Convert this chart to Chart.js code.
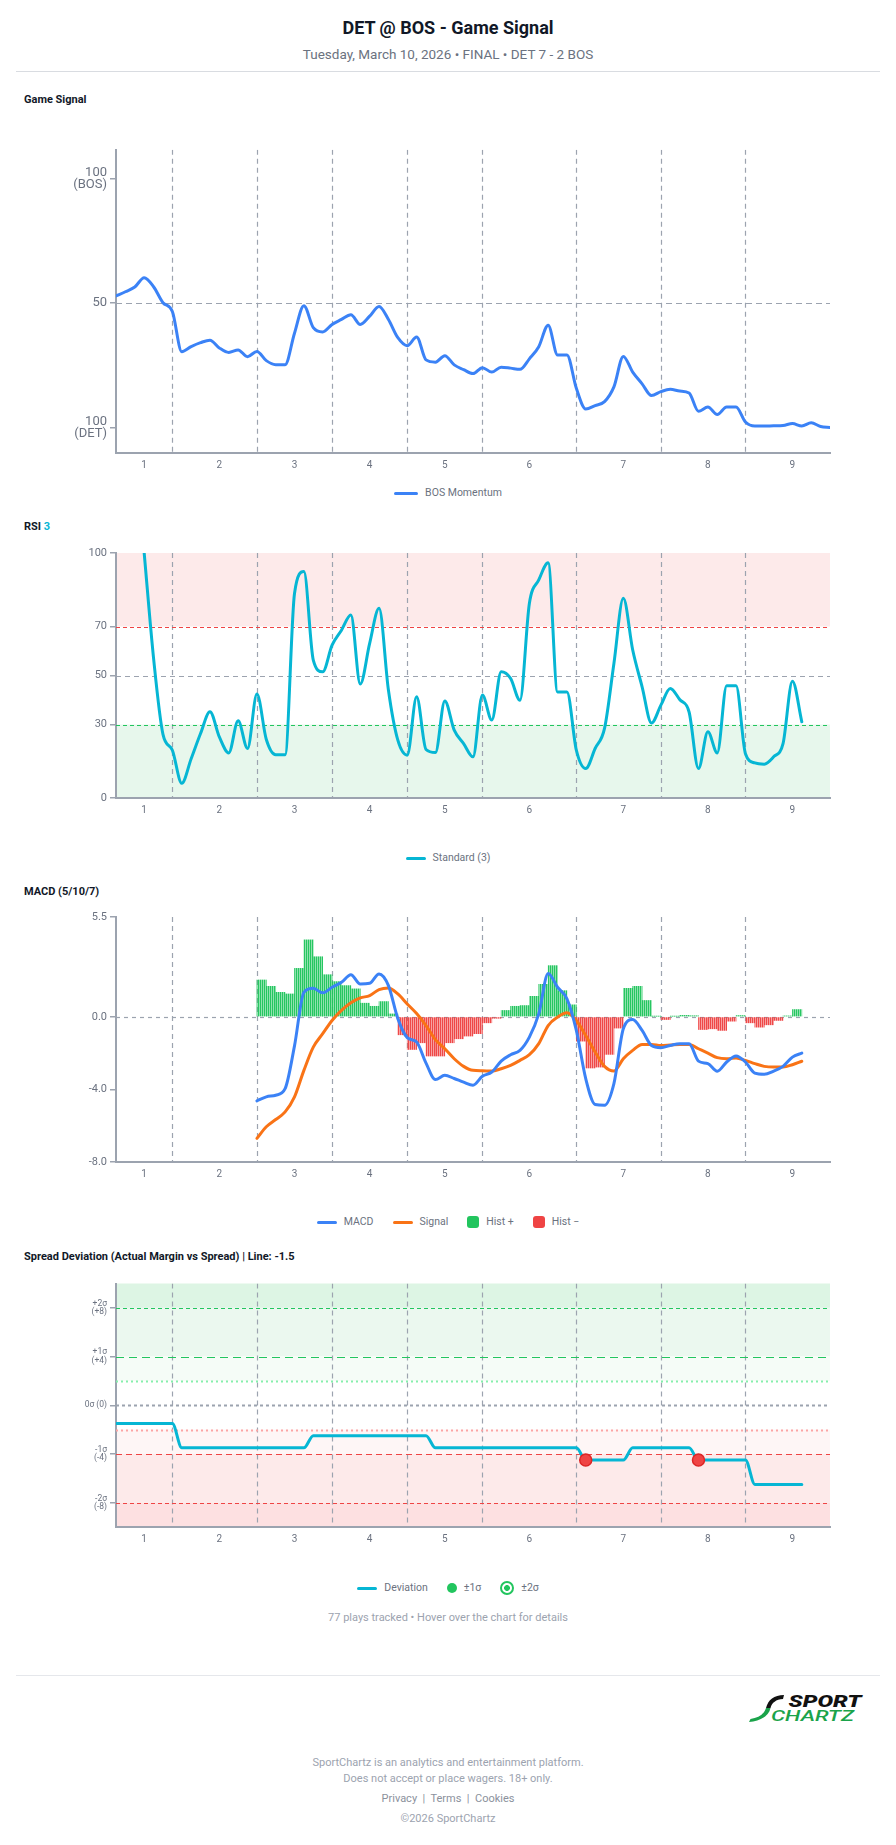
<!DOCTYPE html>
<html>
<head>
<meta charset="utf-8">
<title>DET @ BOS - Game Signal</title>
<script src="https://cdn.jsdelivr.net/npm/chart.js@4.4.1/dist/chart.umd.min.js"></script>
<style>
  body { margin: 0; background: #fff; font-family: Roboto, "Liberation Sans", sans-serif; }
  #page { position: relative; width: 896px; height: 1845px; overflow: hidden; }
  .abs { position: absolute; }
  .center { left: 0; width: 896px; text-align: center; }
  .title { top: 17px; line-height: 22px; font-size: 18px; font-weight: 700; color: #111827; }
  .sub { top: 46px; line-height: 17px; font-size: 13.5px; color: #6b7280; }
  .rule { left: 16px; width: 864px; height: 1px; background: #d9dce1; }
  .section { left: 24px; line-height: 16px; font-size: 11px; font-weight: 700; color: #111827; }
  .box { left: 0; width: 896px; }
  .legend { left: 0; width: 896px; display: flex; justify-content: center; gap: 19px;
            line-height: 16px; font-size: 10.5px; color: #6b7280; }
  .legend span { display: flex; align-items: center; gap: 7px; }
  .ln { display: inline-block; width: 20px; height: 3px; border-radius: 2px; }
  .sq { display: inline-block; width: 12px; height: 12px; border-radius: 3px; }
  .dot { display: inline-block; width: 10px; height: 10px; border-radius: 50%; background: #22c55e; }
  .ring { display: inline-block; width: 10px; height: 10px; border-radius: 50%; border: 2px solid #22c55e;
          background: radial-gradient(circle, #22c55e 0 2.6px, #fff 3.2px); }
  .note { line-height: 14px; font-size: 11px; color: #9ca3af; }
  .foot { line-height: 14px; font-size: 11px; color: #9ca3af; }
</style>
</head>
<body>
<div id="page">
  <div class="abs center title">DET @ BOS - Game Signal</div>
  <div class="abs center sub">Tuesday, March 10, 2026 • FINAL • DET 7 - 2 BOS</div>
  <div class="abs rule" style="top:71px"></div>

  <div class="abs section" style="top:92px">Game Signal</div>
  <div class="abs box" style="top:135px;height:348px"><canvas id="momChart"></canvas></div>
  <div class="abs legend" style="top:485px">
    <span><i class="ln" style="width:24px;background:#3b82f6"></i>BOS Momentum</span>
  </div>

  <div class="abs section" style="top:519px">RSI <span style="color:#06b6d4">3</span></div>
  <div class="abs box" style="top:543px;height:285px"><canvas id="rsiChart"></canvas></div>
  <div class="abs legend" style="top:850px">
    <span><i class="ln" style="background:#06b6d4"></i>Standard (3)</span>
  </div>

  <div class="abs section" style="top:884px">MACD (5/10/7)</div>
  <div class="abs box" style="top:907px;height:285px"><canvas id="macdChart"></canvas></div>
  <div class="abs legend" style="top:1214px">
    <span><i class="ln" style="background:#3b82f6"></i>MACD</span>
    <span><i class="ln" style="background:#f97316"></i>Signal</span>
    <span><i class="sq" style="background:#22c55e"></i>Hist +</span>
    <span><i class="sq" style="background:#ef4444"></i>Hist −</span>
  </div>

  <div class="abs section" style="top:1249px">Spread Deviation (Actual Margin vs Spread) | Line: -1.5</div>
  <div class="abs box" style="top:1272px;height:285px"><canvas id="devChart"></canvas></div>
  <div class="abs legend" style="top:1580px">
    <span><i class="ln" style="background:#06b6d4"></i>Deviation</span>
    <span><i class="dot"></i>±1σ</span>
    <span><i class="ring"></i>±2σ</span>
  </div>
  <div class="abs center note" style="top:1611px">77 plays tracked • Hover over the chart for details</div>

  <div class="abs rule" style="top:1675px;background:#e5e7eb"></div>
  <svg class="abs" style="left:746px;top:1692px" width="120" height="34" viewBox="0 0 120 34">
    <path d="M38 3 C28 3 22 8 20 16 L24.5 16 C26 10.5 30 7.5 37 7 Z" fill="#111"/>
    <path d="M20 16 L24.5 16 C23 24 14 29.5 3 30 L4.5 27 C12 26 18 22.5 20 16 Z" fill="#1aa34a"/>
    <text x="42.5" y="14.8" textLength="73" lengthAdjust="spacingAndGlyphs" font-family="Roboto, sans-serif" font-size="16" font-weight="900" font-style="italic" fill="#111">SPORT</text>
    <text x="25" y="28.5" textLength="83" lengthAdjust="spacingAndGlyphs" font-family="Roboto, sans-serif" font-size="15.5" font-weight="500" font-style="italic" fill="#1aa34a">CHARTZ</text>
  </svg>

  <div class="abs center foot" style="top:1756px">SportChartz is an analytics and entertainment platform.</div>
  <div class="abs center foot" style="top:1772px">Does not accept or place wagers. 18+ only.</div>
  <div class="abs center foot" style="top:1792px;color:#8b919c">Privacy &nbsp;|&nbsp; Terms &nbsp;|&nbsp; Cookies</div>
  <div class="abs center foot" style="top:1812px">©2026 SportChartz</div>
</div>

<script>
// play index axis: 77 plays, 0..76
const inningBreaks = [6, 15, 23, 31, 39, 49, 58, 67];
const inningTicks = [3, 11, 19, 27, 35, 44, 54, 63, 72];
const inningLabels = ['1', '2', '3', '4', '5', '6', '7', '8', '9'];

// BOS momentum, one value per play (0 = DET 100, 100 = BOS 100)
const momentum = [
  52.9, 54.6, 56.5, 60.2, 56.6, 50.2, 46.7, 30.6, 32.6, 34.2,
  35.2, 32.1, 30.3, 31.3, 28.6, 30.7, 27.0, 25.4, 25.4, 38.0,
  49.0, 40.2, 38.5, 41.5, 43.5, 45.4, 41.5, 44.8, 48.7, 43.5,
  36.2, 33.0, 36.5, 27.3, 26.4, 29.0, 25.3, 23.4, 21.8, 24.2,
  22.4, 24.4, 24.0, 23.5, 27.7, 32.6, 41.2, 29.3, 29.3, 15.9,
  7.6, 9.0, 10.6, 16.5, 28.7, 22.4, 17.7, 13.0, 14.6, 15.5,
  14.8, 14.0, 6.7, 8.4, 5.4, 8.4, 8.4, 2.4, 0.8, 0.8,
  0.9, 1.0, 1.8, 0.8, 2.1, 0.6, 0.2
];
const momentumTicks = [0, 50, 100];
const momentumTickText = [['100', '(DET)'], '50', ['100', '(BOS)']];

// RSI(3), starts at play 3
const rsiStart = 3;
const rsi = [
  100, 57, 26, 19.5, 6, 16, 26.3, 35.2, 24.9, 18.4,
  31.5, 20.2, 42.4, 23.9, 17.7, 17.7, 83.5, 92.4, 56.3, 51.5,
  62.4, 68.5, 74.7, 46.5, 63.1, 77.4, 44, 23.6, 17.5, 41.3,
  19.8, 18.6, 39.6, 27.7, 22.2, 16.8, 42, 31.8, 51.5, 48.8,
  39.9, 79.4, 89, 96, 43.3, 43.3, 19.5, 12, 20.2, 28.4,
  54.9, 81.5, 60.4, 45.4, 30.6, 37.9, 44.7, 40.2, 35.1, 12,
  27, 18.4, 45.8, 45.8, 18.1, 14.3, 13.8, 16.8, 22.2, 47.7, 31.1
];
const rsiTicks = [0, 30, 50, 70, 100];

// MACD (5/10/7), starts at play 15
const macdStart = 15;
const macdLine = [
  -4.63, -4.41, -4.32, -3.96, -1.6, 1.35, 1.57, 1.32, 1.63, 1.9,
  2.32, 1.81, 1.85, 2.36, 1.72, -0.1, -1.15, -1.39, -2.55, -3.46,
  -3.22, -3.4, -3.6, -3.77, -3.28, -3.04, -2.44, -2.09, -1.85, -1.12,
  0.16, 2.39, 1.63, 0.99, -0.75, -3.41, -4.83, -4.87, -3.68, -0.66,
  -0.15, -0.75, -1.58, -1.7, -1.58, -1.48, -1.48, -2.44, -2.58, -3.0,
  -2.49, -2.16, -2.49, -3.1, -3.17, -2.99, -2.73, -2.22, -2.0
];
const signalLine = [
  -6.7, -6.06, -5.66, -5.24, -4.41, -2.95, -1.67, -0.93, -0.2, 0.35,
  0.77, 1.04, 1.17, 1.5, 1.59, 1.26, 0.71, 0.18, -0.48, -1.26,
  -1.76, -2.31, -2.73, -2.95, -2.97, -2.99, -2.86, -2.68, -2.4, -2.09,
  -1.48, -0.48, -0.02, 0.22, -0.2, -1.03, -1.94, -2.73, -2.99, -2.31,
  -1.85, -1.52, -1.52, -1.58, -1.55, -1.52, -1.52, -1.76, -2.0, -2.25,
  -2.31, -2.27, -2.4, -2.58, -2.73, -2.77, -2.77, -2.64, -2.45
];
const histogram = [
  2.03, 1.68, 1.35, 1.26, 2.67, 4.24, 3.31, 2.32, 1.94, 1.72,
  1.54, 0.75, 0.58, 0.84, 0.16, -0.99, -1.8, -1.43, -2.16, -2.16,
  -1.43, -1.21, -1.06, -0.93, -0.33, -0.08, 0.35, 0.58, 0.62, 1.13,
  1.79, 2.82, 1.44, 0.66, -1.34, -2.82, -2.77, -2.07, -0.62, 1.57,
  1.68, 0.9, 0.03, -0.15, 0.03, 0.08, 0.06, -0.7, -0.66, -0.75,
  -0.24, 0.07, -0.33, -0.57, -0.44, -0.2, 0.05, 0.4
];
const macdTicks = [-8, -4, 0, 5.5];
const macdTickText = ['-8.0', '-4.0', '0.0', '5.5'];

// spread deviation (actual margin vs spread), plays 0..73
const deviation = [
  -1.5, -1.5, -1.5, -1.5, -1.5, -1.5, -1.5,
  -3.5, -3.5, -3.5, -3.5, -3.5, -3.5, -3.5, -3.5, -3.5, -3.5, -3.5, -3.5, -3.5, -3.5,
  -2.5, -2.5, -2.5, -2.5, -2.5, -2.5, -2.5, -2.5, -2.5, -2.5, -2.5, -2.5, -2.5,
  -3.5, -3.5, -3.5, -3.5, -3.5, -3.5, -3.5, -3.5, -3.5, -3.5, -3.5, -3.5, -3.5, -3.5, -3.5, -3.5,
  -4.5, -4.5, -4.5, -4.5, -4.5,
  -3.5, -3.5, -3.5, -3.5, -3.5, -3.5, -3.5,
  -4.5, -4.5, -4.5, -4.5, -4.5, -4.5,
  -6.5, -6.5, -6.5, -6.5, -6.5, -6.5
];
const alertPlays = [50, 62];
const devTicks = [-8, -4, 0, 4, 8];
const devTickText = [['-2σ', '(-8)'], ['-1σ', '(-4)'], '0σ (0)', ['+1σ', '(+4)'], ['+2σ', '(+8)']];

Chart.defaults.font.family = "Roboto, 'Liberation Sans', sans-serif";
const GREY = '#9ca3af';
const TICK = '#6b7280';

// bands behind the axes, dashed guides before datasets
function guides(cfg) {
  return {
    id: 'guides',
    beforeDraw(chart) {
      const { ctx, chartArea: a, scales: { y } } = chart;
      ctx.save();
      (cfg.bands || []).forEach(b => {
        const y1 = y.getPixelForValue(b.from), y2 = y.getPixelForValue(b.to);
        ctx.fillStyle = b.color;
        ctx.fillRect(a.left, Math.min(y1, y2), a.width, Math.abs(y2 - y1));
      });
      ctx.restore();
    },
    beforeDatasetsDraw(chart) {
      const { ctx, chartArea: a, scales: { x, y } } = chart;
      ctx.save();
      ctx.beginPath();
      ctx.rect(a.left, a.top, a.width, a.height);
      ctx.clip();
      ctx.lineWidth = 1.2;
      ctx.strokeStyle = GREY;
      ctx.setLineDash([5, 4]);
      inningBreaks.forEach(v => {
        const px = Math.round(x.getPixelForValue(v)) + 0.5;
        ctx.beginPath();
        ctx.moveTo(px, a.top);
        ctx.lineTo(px, a.bottom);
        ctx.stroke();
      });
      (cfg.lines || []).forEach(l => {
        const py = Math.round(y.getPixelForValue(l.value)) + 0.5;
        ctx.strokeStyle = l.color;
        ctx.lineWidth = l.width;
        ctx.setLineDash(l.dash);
        ctx.beginPath();
        ctx.moveTo(a.left, py);
        ctx.lineTo(a.right, py);
        ctx.stroke();
      });
      ctx.restore();
    }
  };
}

function xAxis() {
  return {
    type: 'linear',
    min: 0,
    max: 76,
    offset: false,
    afterBuildTicks: s => { s.ticks = inningTicks.map(v => ({ value: v })); },
    afterFit: s => { s.height = 30; },
    ticks: {
      callback: v => inningLabels[inningTicks.indexOf(v)],
      color: TICK, font: { size: 10 }, padding: 6, maxRotation: 0, autoSkip: false
    },
    grid: { drawOnChartArea: false, drawTicks: false, offset: false },
    border: { color: GREY, width: 2 }
  };
}

function yAxis(min, max, vals, text, size, lh) {
  return {
    type: 'linear',
    min: min,
    max: max,
    afterBuildTicks: s => { s.ticks = vals.map(v => ({ value: v })); },
    afterFit: s => { s.width = 116; },
    ticks: {
      callback: v => text[vals.indexOf(v)],
      color: TICK, font: { size: size, lineHeight: lh }, padding: 3, autoSkip: false
    },
    grid: { drawOnChartArea: false, drawTicks: true, tickLength: 6, color: GREY, lineWidth: 1.5 },
    border: { color: GREY, width: 2 }
  };
}

function baseOptions(scales) {
  return {
    responsive: true,
    maintainAspectRatio: false,
    animation: false,
    events: [],
    layout: { padding: { top: 10, right: 66, bottom: 0, left: 0 } },
    scales: scales,
    plugins: { legend: { display: false }, tooltip: { enabled: false } }
  };
}

const lineStyle = { borderWidth: 3, pointRadius: 0, cubicInterpolationMode: 'monotone',
  fill: false, borderCapStyle: 'round', borderJoinStyle: 'round' };

// momentum
new Chart(document.getElementById('momChart'), {
  type: 'line',
  data: {
    datasets: [Object.assign({
      label: 'BOS Momentum',
      data: momentum.map((v, i) => ({ x: i, y: v })),
      borderColor: '#3b82f6'
    }, lineStyle)]
  },
  options: baseOptions({ x: xAxis(), y: yAxis(-10, 111.5, momentumTicks, momentumTickText, 13, 0.9) }),
  plugins: [guides({ lines: [{ value: 50, color: GREY, dash: [6, 4], width: 1.2 }] })]
});

// RSI
new Chart(document.getElementById('rsiChart'), {
  type: 'line',
  data: {
    datasets: [Object.assign({
      label: 'Standard (3)',
      data: rsi.map((v, k) => ({ x: rsiStart + k, y: v })),
      borderColor: '#06b6d4'
    }, lineStyle)]
  },
  options: baseOptions({ x: xAxis(), y: yAxis(0, 100, rsiTicks, rsiTicks.map(String), 11, 1.2) }),
  plugins: [guides({
    bands: [
      { from: 70, to: 100, color: '#fdeaea' },
      { from: 0, to: 30, color: '#e7f7ec' }
    ],
    lines: [
      { value: 70, color: '#ef4444', dash: [4, 3], width: 1.2 },
      { value: 50, color: GREY, dash: [5, 4], width: 1.2 },
      { value: 30, color: '#22c55e', dash: [4, 3], width: 1.2 }
    ]
  })]
});

// MACD
const macdCanvas = document.getElementById('macdChart');
function stripes(ctx, dark, light) {
  const t = document.createElement('canvas');
  t.width = 2; t.height = 4;
  const g = t.getContext('2d');
  g.fillStyle = light; g.fillRect(0, 0, 2, 4);
  g.fillStyle = dark; g.fillRect(0, 0, 1, 4);
  return ctx.createPattern(t, 'repeat');
}
const mctx = macdCanvas.getContext('2d');
const histUp = stripes(mctx, 'rgba(34,197,94,0.95)', 'rgba(34,197,94,0.5)');
const histDown = stripes(mctx, 'rgba(239,68,68,0.95)', 'rgba(239,68,68,0.5)');

new Chart(macdCanvas, {
  type: 'line',
  data: {
    datasets: [
      Object.assign({
        label: 'MACD',
        data: macdLine.map((v, k) => ({ x: macdStart + k, y: v })),
        borderColor: '#3b82f6', order: 0
      }, lineStyle),
      Object.assign({
        label: 'Signal',
        data: signalLine.map((v, k) => ({ x: macdStart + k, y: v })),
        borderColor: '#f97316', order: 1
      }, lineStyle),
      {
        type: 'bar',
        label: 'Histogram',
        data: histogram.map((v, k) => ({ x: macdStart + k + 0.5, y: v })),
        backgroundColor: c => (c.raw && c.raw.y >= 0 ? histUp : histDown),
        barPercentage: 1,
        categoryPercentage: 1,
        order: 2
      }
    ]
  },
  options: baseOptions({ x: xAxis(), y: yAxis(-8, 5.5, macdTicks, macdTickText, 11, 1.2) }),
  plugins: [guides({ lines: [{ value: 0, color: GREY, dash: [4, 4], width: 1.2 }] })]
});

// spread deviation
new Chart(document.getElementById('devChart'), {
  type: 'line',
  data: {
    datasets: [
      {
        label: 'Crossings',
        data: alertPlays.map(i => ({ x: i, y: deviation[i] })),
        showLine: false,
        pointRadius: 6,
        pointBackgroundColor: '#ef4444',
        pointBorderColor: '#dc2626',
        pointBorderWidth: 1.5,
        order: 0
      },
      Object.assign({
        label: 'Deviation',
        data: deviation.map((v, i) => ({ x: i, y: v })),
        borderColor: '#06b6d4', order: 1
      }, lineStyle)
    ]
  },
  options: baseOptions({ x: xAxis(), y: yAxis(-10, 10, devTicks, devTickText, 8.5, 1) }),
  plugins: [guides({
    bands: [
      { from: 8, to: 10, color: '#ddf5e4' },
      { from: 4, to: 8, color: '#ebf8ef' },
      { from: 2, to: 4, color: '#f5fcf7' },
      { from: -4, to: -2, color: '#fef6f6' },
      { from: -8, to: -4, color: '#fdeaea' },
      { from: -10, to: -8, color: '#fde0e1' }
    ],
    lines: [
      { value: 8, color: '#22c55e', dash: [4, 3], width: 1.2 },
      { value: 4, color: '#22c55e', dash: [8, 5], width: 1.2 },
      { value: 2, color: '#86efac', dash: [2, 3], width: 2 },
      { value: 0, color: GREY, dash: [3, 3], width: 2 },
      { value: -2, color: '#fca5a5', dash: [2, 3], width: 2 },
      { value: -4, color: '#ef4444', dash: [6, 4], width: 1.2 },
      { value: -8, color: '#ef4444', dash: [4, 3], width: 1.2 }
    ]
  })]
});
</script>
</body>
</html>
